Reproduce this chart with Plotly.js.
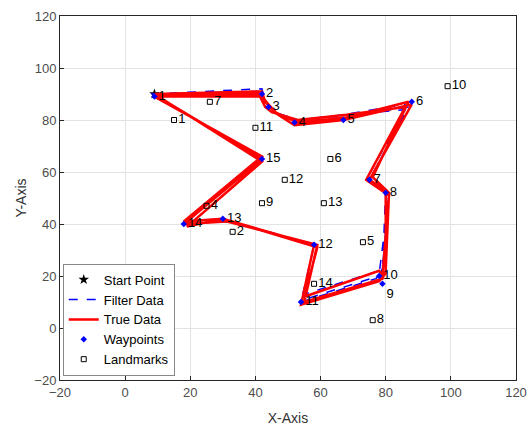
<!DOCTYPE html>
<html>
<head>
<meta charset="utf-8">
<script src="https://cdn.plot.ly/plotly-3.0.1.min.js"></script>
<style>
  html, body { margin: 0; padding: 0; background: #fff; }
  #plot { width: 529px; height: 427px; }
</style>
</head>
<body>
<div id="plot"></div>
<script>
// Robot start position
const startX = [9];
const startY = [90];

// Waypoints visited in order, with their numbers
const wpX = [9, 42, 44, 52, 67, 88, 75, 80, 79, 78, 54, 58, 30, 18, 42];
const wpY = [89, 90, 85, 79, 80, 87, 57, 52, 17, 20, 10, 32, 42, 40, 65];
const wpLabels = ["1", "2", "3", "4", "5", "6", "7", "8", "9", "10", "11", "12", "13", "14", "15"];

// Landmark positions and their ids
const lmX = [15, 33, 25, 73, 63, 26, 76, 42, 99, 40, 49, 61, 58];
const lmY = [80, 37, 47, 33, 65, 87, 3, 48, 93, 77, 57, 48, 17];
const lmLabels = ["1", "2", "4", "5", "6", "7", "8", "9", "10", "11", "12", "13", "14"];

// Ground-truth trajectory (three laps around the course)
const trueX = [9, 42, 43, 46, 53, 68, 87, 76, 81, 80, 79, 55, 59, 31, 18, 42, 10,
               42, 44, 47, 52, 67, 88, 75, 80, 80, 78, 54, 58, 30, 19, 42, 9,
               41, 43, 45, 53, 68, 86, 74, 81, 79, 78, 55, 59, 30, 18, 42, 9];
const trueY = [90, 91, 87, 83, 79, 81, 87, 58, 52, 22, 19, 10, 32, 41, 40, 65, 89,
               89, 86, 82, 78, 80, 86, 57, 53, 21, 18, 9, 32, 42, 39, 64, 90,
               90, 85, 83, 80, 82, 85, 57, 51, 20, 22, 12, 31, 42, 41, 66, 89];

// Estimated trajectory from the filter
const filtX = [8, 42, 43, 46, 53, 67, 86, 76, 81, 79, 78, 55, 59, 31, 18, 42, 10,
               41, 44, 47, 52, 66, 87, 75, 80, 79, 77, 54, 58, 30, 19, 42, 9,
               41, 43, 45, 53, 68, 86, 74, 81, 78, 78, 55, 59, 30, 18, 42, 9];
const filtY = [90, 92, 87, 83, 80, 82, 86, 58, 52, 23, 20, 11, 32, 41, 40, 65, 89,
               90, 86, 82, 79, 81, 85, 57, 53, 22, 19, 10, 32, 42, 39, 64, 90,
               91, 85, 83, 80, 82, 84, 57, 51, 21, 22, 13, 31, 42, 41, 66, 89];

const fontFamily = "Liberation Sans, Arial, sans-serif";
const labelFont = { family: fontFamily, size: 13, color: "#000" };

// Label placement per waypoint: waypoint 9 sits right under 10, so its number goes below
const wpTextPos = wpLabels.map(l => (l === "9" ? "bottom right" : "middle right"));

const traces = [
  {
    name: "Start Point", x: startX, y: startY, type: "scatter", mode: "markers",
    marker: { symbol: "star", size: 8, color: "#000" }
  },
  {
    name: "Filter Data", x: filtX, y: filtY, type: "scatter", mode: "lines",
    line: { color: "#0000ff", width: 1.5, dash: "dash" }
  },
  {
    name: "True Data", x: trueX, y: trueY, type: "scatter", mode: "lines",
    line: { color: "#ff0000", width: 2.5 }
  },
  {
    name: "Waypoints", x: wpX, y: wpY, type: "scatter", mode: "markers+text",
    text: wpLabels, textposition: wpTextPos, textfont: labelFont,
    marker: { symbol: "diamond", size: 5, color: "#0000ff" }
  },
  {
    name: "Landmarks", x: lmX, y: lmY, type: "scatter", mode: "markers+text",
    text: lmLabels, textposition: "middle right", textfont: labelFont,
    marker: { symbol: "square-open", size: 5, color: "#000", line: { width: 1 } }
  }
];

const axisCommon = {
  range: [-20, 120], dtick: 20, tick0: -20,
  showgrid: true, gridcolor: "#e3e3e3", gridwidth: 1,
  zeroline: false, showline: true, mirror: true,
  linecolor: "#262626", linewidth: 1,
  ticks: "inside", ticklen: 4, tickcolor: "#262626",
  tickfont: { family: fontFamily, size: 13, color: "#4d4d4d" }
};

const layout = {
  width: 529, height: 427,
  margin: { l: 60, r: 13, t: 16, b: 47 },
  paper_bgcolor: "#fff", plot_bgcolor: "#fff",
  showlegend: true,
  xaxis: Object.assign({}, axisCommon, {
    title: { text: "X-Axis", standoff: 14, font: { family: fontFamily, size: 14, color: "#333" } }
  }),
  yaxis: Object.assign({}, axisCommon, {
    title: { text: "Y-Axis", standoff: 4, font: { family: fontFamily, size: 14, color: "#333" } }
  }),
  legend: {
    x: 0.006, y: 0.012, xanchor: "left", yanchor: "bottom",
    bgcolor: "#fff", bordercolor: "#888", borderwidth: 1,
    font: { family: fontFamily, size: 13, color: "#000" },
    itemwidth: 30, tracegroupgap: 0
  }
};

Plotly.newPlot("plot", traces, layout, { displayModeBar: false, staticPlot: true });
</script>
</body>
</html>
